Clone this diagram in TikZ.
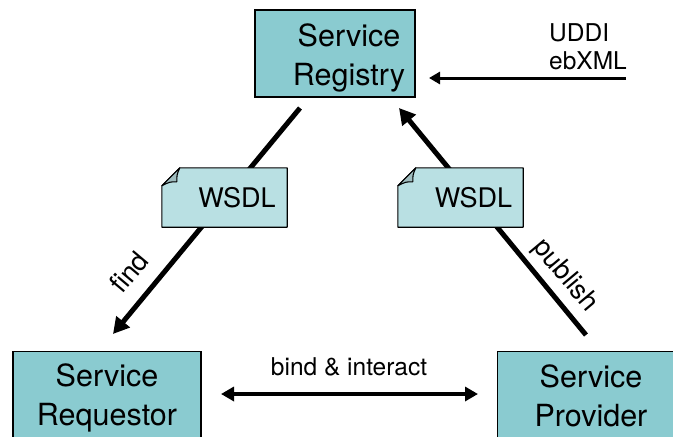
\documentclass[tikz,border=0pt]{standalone}
\usepackage{fontspec}
\setmainfont{TeX Gyre Heros}
\usepackage{tikz}
\usetikzlibrary{arrows.meta}

\definecolor{boxteal}{HTML}{8ACBD0}
\definecolor{docteal}{HTML}{B9E0E3}
\definecolor{foldteal}{HTML}{A0BDBF}

\tikzset{
    service/.style={draw, fill=boxteal, line width=1.2pt, minimum width=#1},
    servicetext/.style={inner sep=0pt, align=center, font=\fontsize{30.5}{38.5}\selectfont},
    wsdlbox/.style={minimum width=125pt, minimum height=59pt, inner sep=0pt},
    wsdltext/.style={inner sep=0pt, font=\fontsize{27}{32}\selectfont},
    label/.style={inner sep=0pt, font=\fontsize{24.5}{28}\selectfont},
    sidelabel/.style={inner sep=0pt, font=\fontsize{27}{32}\selectfont},
    docline/.style={line width=1.1pt, line join=round}
}

\begin{document}
\begin{tikzpicture}[x=1pt, y=-1pt]
    \useasboundingbox (0,0) rectangle (673,437);
    \clip (0,0) rectangle (673,437);

    \node[service=160pt, minimum height=87pt] (registry) at (335,53.5) {};
    \node[service=188pt, minimum height=100pt, anchor=north] (requestor) at (107,351) {};
    \node[service=190pt, minimum height=100pt, anchor=north west] (provider) at (497,351) {};
    \node[servicetext] (registrytext) at (349,58) {Service\\Registry};
    \node[servicetext] (requestortext) at (107,398) {Service\\Requestor};
    \node[servicetext] (providertext) at (591,396) {Service\\Provider};

    % arrows run underneath the two documents
    \coordinate (findstart) at (300,108);
    \coordinate (findend) at (113,334);
    \coordinate (pubstart) at (586,335);
    \coordinate (pubend) at (399,108);
    \draw[line width=5pt, -{Triangle[length=16pt,width=17pt]}] (findstart) -- (findend);
    \draw[line width=5pt, -{Triangle[length=16pt,width=17pt]}] (pubstart) -- (pubend);

    \coordinate (uddistart) at (626,78);
    \coordinate (uddiend) at (429,78);
    \draw[line width=3pt, -{Triangle[length=11pt,width=12pt]}] (uddistart) -- (uddiend);

    \coordinate (bindleft) at (221,394);
    \coordinate (bindright) at (478,394);
    \draw[line width=3.5pt, {Triangle[length=13pt,width=14pt]}-{Triangle[length=13pt,width=14pt]}] (bindleft) -- (bindright);

    \node[wsdlbox] (wsdlfind) at (224.5,197.5) {};
    \node[wsdlbox] (wsdlpub) at (460.5,197.5) {};
    \foreach \doc in {wsdlfind, wsdlpub} {
        \draw[docline, fill=docteal] ([xshift=18pt]\doc.north west) -- (\doc.north east) -- (\doc.south east)
            -- (\doc.south west) -- ([yshift=-18pt]\doc.north west) -- cycle;
        \draw[docline, fill=foldteal] ([yshift=-18pt]\doc.north west) -- ([xshift=18pt]\doc.north west)
            .. controls ([xshift=15pt,yshift=-7pt]\doc.north west) .. ([xshift=15pt,yshift=-14pt]\doc.north west)
            .. controls ([xshift=8pt,yshift=-14pt]\doc.north west) .. ([yshift=-18pt]\doc.north west);
    }
    \node[wsdltext] (wsdlfindtext) at (237,197.5) {WSDL};
    \node[wsdltext] (wsdlpubtext) at (473.5,197.5) {WSDL};

    \node[sidelabel, rotate=50] (findlabel) at (129,272) {find};
    \node[sidelabel, rotate=-50] (publabel) at (565,276) {publish};
    \node[label, align=left, anchor=north west] (uddilabel) at (549,23) {UDDI\\ebXML};
    \node[label] (bindlabel) at (349,367) {bind \& interact};
\end{tikzpicture}
\end{document}
